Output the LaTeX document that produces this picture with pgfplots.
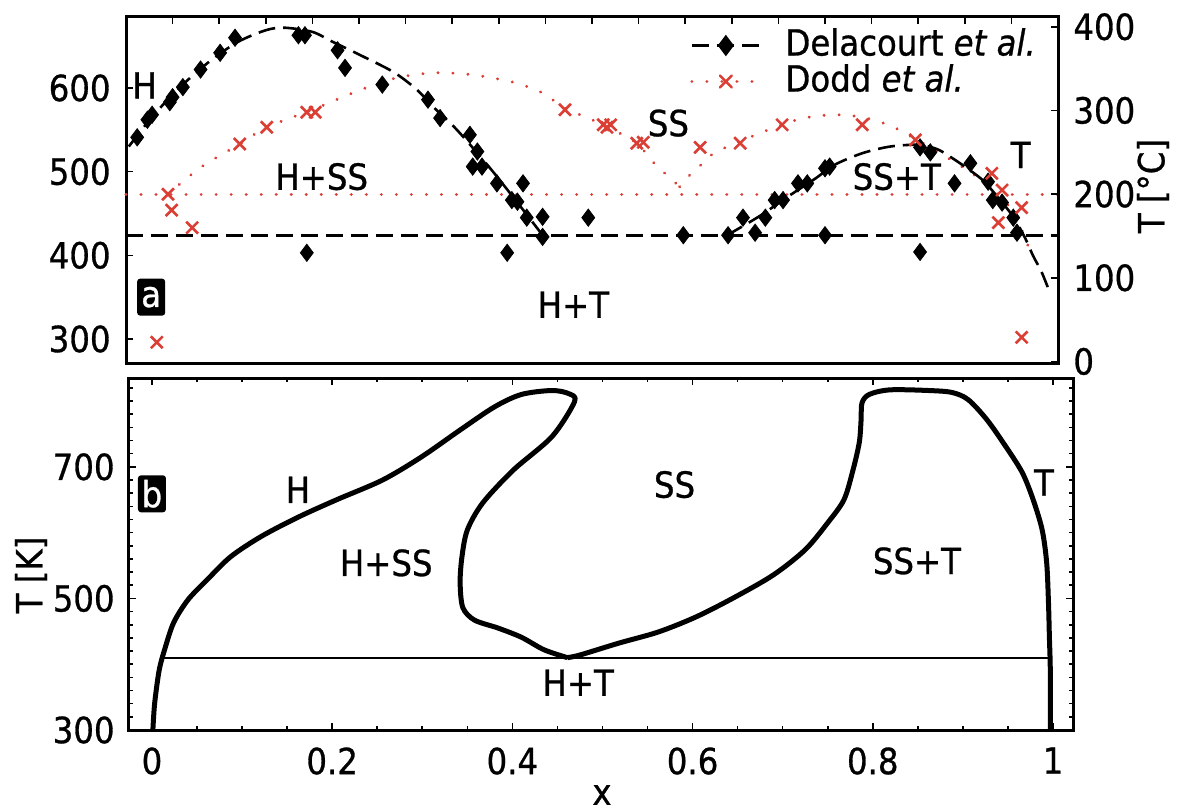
\documentclass[border=0pt]{standalone}
\usepackage{fontspec}
\setmainfont{DejaVu Sans}[FakeStretch=0.9, FakeBold=0.8]
\usepackage{pgfplots}
\pgfplotsset{compat=1.18}
\definecolor{dred}{RGB}{218,62,52}
\newcommand{\lf}{\fontsize{18}{20}\selectfont}
\tikzset{
  dott/.style={dred, line width=1.6pt, dash pattern=on 0.01pt off 7.5pt, line cap=round},
  dsh/.style={black, line width=1.3pt, dash pattern=on 8.5pt off 4pt},
  lab/.style={font=\lf, inner sep=0pt},
  pbox/.style={fill=black, text=white, rounded corners=1.5pt, font=\lf, minimum width=14pt, minimum height=18.5pt, inner sep=0pt}
}
\pgfplotsset{
  every axis/.append style={
    scale only axis,
    axis line style={line width=1.5pt},
    tick align=inside,
    major tick length=3.5pt,
    minor tick length=2pt,
    every tick/.style={black, line width=0.8pt},
    tick label style={font=\lf},
    /pgf/number format/assume math mode=true,
  }
}
\begin{document}
\begin{tikzpicture}[x=1pt,y=1pt]
\path (0,0) rectangle (592,405.5);
% ---------------- top panel (a) ----------------
\begin{axis}[
  at={(63pt,224pt)}, anchor=south west,
  width=466pt, height=173pt,
  xmin=0, xmax=1, ymin=271.3, ymax=684.8,
  xtick={0,0.05,0.1,0.15,0.2,0.25,0.3,0.35,0.4,0.45,0.5,0.55,0.6,0.65,0.7,0.75,0.8,0.85,0.9,0.95,1},
  xticklabels={}, xtick pos=right,
  ytick={300,400,500,600}, ytick pos=left,
  yticklabel style={inner sep=0pt, xshift=-7.5pt},
  clip=false,
  legend style={at={(0.605,0.965)}, anchor=north west, draw=none, fill=none,
    font=\lf, row sep=2pt, inner sep=0pt,
    nodes={inner sep=0pt, text height=13pt, text depth=3pt},
    /tikz/every odd column/.append style={column sep=12pt}},
  legend cell align=left,
  legend image code/.code={\draw[#1, mark repeat=2, mark phase=2] plot coordinates {(0pt,0pt) (17pt,0pt) (34pt,0pt)};},
]
\addlegendimage{dsh, mark=diamond*, mark size=4.3pt, mark options={solid, fill=black}}
\addlegendentry{Delacourt \textit{et al.}}
\addlegendimage{dott, mark=x, mark size=4.2pt, mark options={solid, line width=1.3pt}}
\addlegendentry{Dodd \textit{et al.}}
% horizontal lines
\addplot[forget plot, dsh] coordinates {(0,424) (1,424)};
\addplot[forget plot, dott] coordinates {(0,473) (1,473)};
% Dodd fit
\addplot[forget plot, dott, smooth] coordinates {
 (0.045,473) (0.08,505) (0.122,533) (0.151,553) (0.2,574) (0.25,597) (0.29,612) (0.33,618)
 (0.37,616) (0.415,607) (0.447,594) (0.471,576) (0.512,556) (0.548,534) (0.565,512) (0.594,482)};
\addplot[forget plot, dott, smooth] coordinates {
 (0.594,482) (0.605,496) (0.619,510) (0.632,523) (0.659,536) (0.68,546) (0.704,556) (0.727,564)
 (0.759,568) (0.79,565) (0.82,555) (0.847,539) (0.875,521) (0.905,500) (0.93,479) (0.95,455) (0.962,428) (0.97,405)};
% Delacourt fit
\addplot[forget plot, dsh, smooth] coordinates {
 (0.003,530) (0.03,568) (0.06,603) (0.09,632) (0.12,655) (0.15,669) (0.17,672) (0.2,667)
 (0.222,655) (0.25,640) (0.287,619) (0.312,598) (0.33,577) (0.355,550) (0.39,505) (0.42,463) (0.447,424)};
\addplot[forget plot, dsh, smooth] coordinates {
 (0.645,424) (0.68,447) (0.71,470) (0.74,492) (0.76,508) (0.79,522) (0.82,530) (0.85,532)
 (0.87,527) (0.884,518) (0.9,506) (0.919,490) (0.935,470) (0.952,446) (0.965,420) (0.973,400) (0.982,381) (0.989,362)};
% Delacourt data
\addplot[forget plot, only marks, mark=diamond*, mark size=4.3pt, black, mark options={fill=black}] coordinates {
 (0.012,541) (0.023,562) (0.028,568) (0.047,583) (0.050,589) (0.061,601) (0.080,622) (0.101,642)
 (0.117,660) (0.185,663) (0.192,663) (0.227,645) (0.235,624) (0.275,604) (0.194,403) (0.324,586)
 (0.337,564) (0.369,544) (0.377,524) (0.372,506) (0.382,506) (0.398,486) (0.414,466) (0.420,464)
 (0.426,486) (0.430,445) (0.447,446) (0.447,422) (0.409,403) (0.496,445) (0.598,424) (0.646,424)
 (0.662,445) (0.675,427) (0.686,445) (0.696,466) (0.705,466) (0.721,486) (0.731,486) (0.750,504)
 (0.755,506) (0.750,424) (0.852,529) (0.863,523) (0.852,404) (0.889,486) (0.906,510) (0.925,488)
 (0.930,466) (0.940,463) (0.952,445) (0.956,427)};
% Dodd data
\addplot[forget plot, only marks, mark=x, mark size=4.2pt, dred, mark options={line width=1.3pt}] coordinates {
 (0.045,473) (0.049,454) (0.071,433) (0.122,533) (0.151,553) (0.194,571) (0.203,571) (0.033,296)
 (0.471,574) (0.512,556) (0.516,553) (0.520,556) (0.548,534) (0.555,535) (0.616,529) (0.659,534)
 (0.704,556) (0.790,556) (0.847,538) (0.929,498) (0.940,478) (0.961,457) (0.936,439) (0.961,302)};
% labels
\node[lab] at (axis cs:0.020,603) {H};
\node[lab] at (axis cs:0.210,494) {H+SS};
\node[lab] at (axis cs:0.582,558) {SS};
\node[lab] at (axis cs:0.827,494) {SS+T};
\node[lab] at (axis cs:0.960,520) {T};
\node[lab] at (axis cs:0.480,341) {H+T};
\node[pbox] at (axis cs:0.027,350) {a};
\end{axis}
% right axis of top panel (deg C)
\begin{axis}[
  at={(63pt,224pt)}, anchor=south west,
  width=466pt, height=173pt,
  xmin=0, xmax=1, ymin=-1.85, ymax=411.65,
  axis x line=none, axis y line*=right,
  ytick={0,100,200,300,400},
  yticklabel style={inner sep=0pt, xshift=7.5pt},
]
\addplot[draw=none] coordinates {(0,0) (1,400)};
\end{axis}
% ---------------- bottom panel (b) ----------------
\begin{axis}[
  at={(64.5pt,40.5pt)}, anchor=south west,
  width=472pt, height=176pt,
  xmin=-0.0255, xmax=1.0222, ymin=300, ymax=835,
  xtick={0,0.2,0.4,0.6,0.8,1}, xticklabels={0,0.2,0.4,0.6,0.8,1},
  minor x tick num=3,
  ytick={300,500,700}, yticklabels={300,500,700},
  minor ytick={320,340,360,380,400,420,440,460,480,520,540,560,580,600,620,640,660,680,720,740,760,780,800,820},
  xticklabel style={inner sep=0pt, yshift=-8.5pt},
  yticklabel style={inner sep=0pt, xshift=-7pt},
]
\addplot[black, line width=0.85pt] coordinates {(0.012,409.5) (0.997,409.5)};
\addplot[black, line width=2.5pt, smooth, line join=round] coordinates {
 (0.001,300) (0.003,341) (0.008,391) (0.014,422) (0.024,463) (0.040,498) (0.061,528) (0.087,563)
 (0.121,594) (0.163,624) (0.205,650) (0.256,680) (0.299,715) (0.342,756) (0.380,791) (0.410,810)
 (0.444,816) (0.463,811) (0.469,799) (0.444,746) (0.401,695) (0.367,645) (0.350,604) (0.344,563)
 (0.342,524) (0.345,486) (0.358,467) (0.384,455) (0.410,441) (0.435,422) (0.461,410)};
\addplot[black, line width=2.5pt, smooth, line join=round] coordinates {
 (0.461,410) (0.475,414) (0.518,432) (0.562,449) (0.604,472) (0.647,502) (0.690,536) (0.725,574)
 (0.750,615) (0.768,650) (0.778,695) (0.785,737) (0.787,771) (0.788,797) (0.796,810) (0.819,817)
 (0.862,816) (0.888,813) (0.906,802) (0.927,771) (0.948,730) (0.966,691) (0.978,650) (0.988,604)
 (0.993,554) (0.995,493) (0.996,441) (0.997,391) (0.997,300)};
\node[lab] at (axis cs:0.162,665) {H};
\node[lab] at (axis cs:0.260,554) {H+SS};
\node[lab] at (axis cs:0.580,673) {SS};
\node[lab] at (axis cs:0.849,557) {SS+T};
\node[lab] at (axis cs:0.990,676) {T};
\node[lab] at (axis cs:0.473,372) {H+T};
\node[pbox] at (axis cs:0.0,659) {b};
\end{axis}
% axis labels
\node[lab] at (301,8) {x};
\node[lab, rotate=90] at (15.5,118) {T [K]};
\node[lab, rotate=90] at (576.5,312.5) {T [°C]};
\end{tikzpicture}
\end{document}
